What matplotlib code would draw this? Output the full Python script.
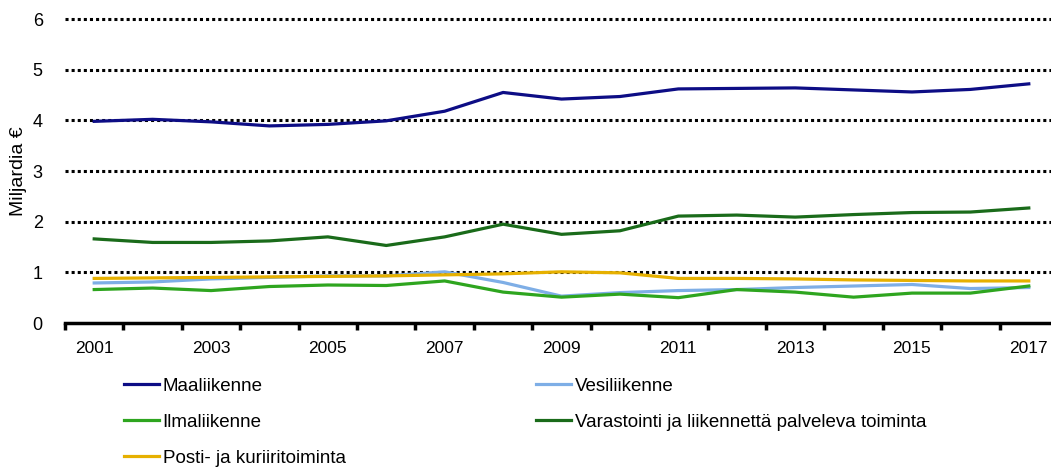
import matplotlib
matplotlib.use("Agg")
import matplotlib.pyplot as plt
from matplotlib.lines import Line2D

plt.rcParams['font.family'] = ['Liberation Sans', 'DejaVu Sans']

years = list(range(2001, 2018))
tick_labels = [str(y) if y % 2 == 1 else "" for y in years]

maaliikenne = [3.98, 4.02, 3.97, 3.89, 3.92, 3.99, 4.18, 4.55, 4.42, 4.47, 4.62, 4.63, 4.64, 4.60, 4.56, 4.61, 4.72]
vesiliikenne = [0.79, 0.81, 0.87, 0.90, 0.93, 0.93, 1.01, 0.80, 0.53, 0.60, 0.64, 0.66, 0.70, 0.73, 0.76, 0.68, 0.70]
ilmaliikenne = [0.66, 0.69, 0.64, 0.72, 0.75, 0.74, 0.83, 0.61, 0.51, 0.57, 0.50, 0.66, 0.61, 0.51, 0.59, 0.59, 0.73]
varastointi = [1.66, 1.59, 1.59, 1.62, 1.70, 1.53, 1.70, 1.95, 1.75, 1.82, 2.11, 2.13, 2.09, 2.14, 2.18, 2.19, 2.27]
posti = [0.88, 0.89, 0.90, 0.91, 0.92, 0.93, 0.95, 0.97, 1.01, 0.99, 0.88, 0.88, 0.87, 0.85, 0.84, 0.83, 0.83]

series = [
    ("Maaliikenne", maaliikenne, "#0d0d85"),
    ("Vesiliikenne", vesiliikenne, "#7eaee6"),
    ("Ilmaliikenne", ilmaliikenne, "#2ea51f"),
    ("Varastointi ja liikennettä palveleva toiminta", varastointi, "#1a6b1a"),
    ("Posti- ja kuriiritoiminta", posti, "#e6b000"),
]

fig = plt.figure(figsize=(10.51, 4.70), dpi=100)
ax = fig.add_axes([65 / 1051, 1 - 323 / 470, 993 / 1051, (323 - 19) / 470])

x = list(range(len(years)))
for yv in range(1, 7):
    ax.axhline(yv, color="black", lw=2.2, linestyle=(0, (1, 1)), zorder=1, clip_on=False)

handles = []
for name, vals, col in series:
    ax.plot(x, vals, color=col, lw=2.3, zorder=3)
    handles.append(Line2D([], [], color=col, lw=2.3))

ax.set_xlim(-0.5, 16.5)
ax.set_ylim(0, 6)
ax.set_yticks(range(0, 7))
ax.set_yticklabels([str(v) for v in range(0, 7)], fontsize=13)
ax.tick_params(axis='y', length=0, pad=16)

ax.set_xticks([i - 0.5 for i in range(len(years) + 1)])
ax.set_xticklabels([])
ax.tick_params(axis='x', length=5, width=2.5, direction='out', color='black')
ax.set_xticks(x, minor=True)
ax.set_xticklabels(tick_labels, minor=True, fontsize=12.5)
ax.tick_params(axis='x', which='minor', length=0, pad=13)

for s in ["top", "right", "left"]:
    ax.spines[s].set_visible(False)
ax.spines["bottom"].set_linewidth(2.5)
ax.spines["bottom"].set_color("black")

ax.set_ylabel("Miljardia €", fontsize=14, labelpad=4)

# legend in two columns
order = [0, 2, 4, 1, 3]
leg = fig.legend([handles[i] for i in order], [series[i][0] for i in order],
                 ncol=2, loc="upper left", bbox_to_anchor=(107 / 1051, 1 - 361 / 470),
                 frameon=False, fontsize=13.5, handlelength=1.87, handletextpad=0.2,
                 columnspacing=10.15, labelspacing=1.0)

fig.savefig("out.png", dpi=100)
